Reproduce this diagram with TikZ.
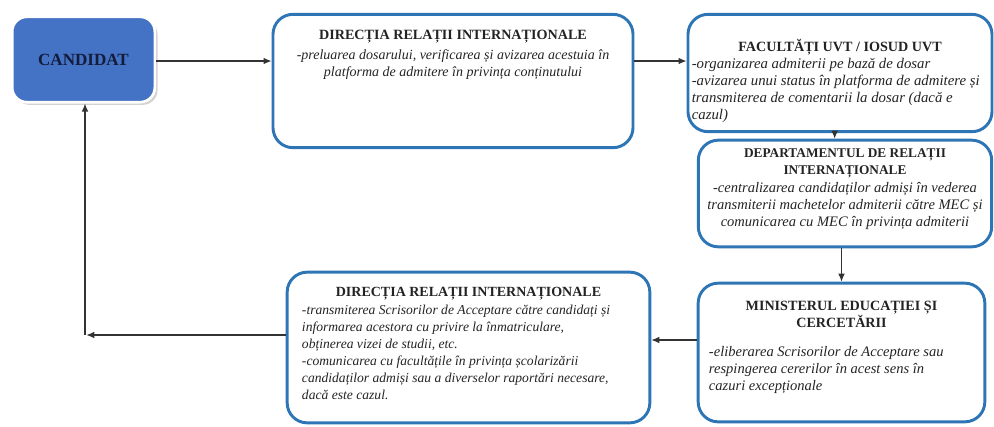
\documentclass[tikz,border=0pt]{standalone}
\usepackage{fontspec}
\setmainfont{Liberation Serif}
\usetikzlibrary{positioning,calc,arrows.meta,shadows}

\definecolor{boxblue}{RGB}{46,117,182}
\definecolor{candfill}{RGB}{68,114,196}
\definecolor{candtext}{RGB}{20,28,60}
\definecolor{txtgray}{RGB}{35,35,35}

\begin{document}
\begin{tikzpicture}[x=0.75pt,y=-0.75pt]
		\tikzset{
		    step box/.style={rectangle,rounded corners=15pt,draw=boxblue,line width=2.2pt,inner sep=0pt},
		    cand box/.style={rectangle,rounded corners=11pt,fill=candfill,draw=white,line width=2pt,
		        drop shadow={shadow xshift=2pt,shadow yshift=-2pt,fill=black!35},inner sep=0pt},
		    title/.style={font=\fontsize{#1}{12.8}\selectfont\bfseries,text=txtgray,align=center,inner sep=0pt},
		    title/.default=10.6,
		    body/.style={font=\fontsize{#1}{12.7}\selectfont\itshape,text=txtgray,inner sep=0pt},
		    body/.default=10.4,
		    edge/.style={-{Latex[length=6pt,width=5pt]},line width=0.9pt,draw=black!80}
		}
		\useasboundingbox (0,0) rectangle (994,426);

		% boxes
		\node[cand box,minimum width=107pt,minimum height=64pt] (cand) at (83.5,59.5)
		    {\fontsize{12.8}{14}\selectfont\bfseries\color{candtext}CANDIDAT};
		\node[step box,minimum width=270pt,minimum height=100pt] (dri1) at (453,81) {};
		\node[step box,minimum width=228pt,minimum height=88pt] (fac) at (840,73) {};
		\node[step box,minimum width=220pt,minimum height=80pt] (dep) at (845,193.5) {};
		\node[step box,minimum width=215pt,minimum height=104pt] (min) at (841.5,352.5) {};
		\node[step box,minimum width=272pt,minimum height=113pt] (dri2) at (468.5,347.5) {};

		% texts
		\node[title] (dri1t) at (453,37) {DIRECȚIA RELAȚII INTERNAȚIONALE};
		\node[body=10.5,align=center,below=4pt of dri1t] (dri1b)
		    {-preluarea dosarului, verificarea și avizarea acestuia în\\
		     platforma de admitere în privința conținutului};

		\node[title] (fact) at (840,47) {FACULTĂȚI UVT / IOSUD UVT};
		\node[body=11.1,align=left,anchor=north west] (facb) at ($(fac.west |- fact.south)+(5,3)$)
		    {-organizarea admiterii pe bază de dosar\\
		     -avizarea unui status în platforma de admitere și\\
		     transmiterea de comentarii la dosar (dacă e\\
		     cazul)};

		\node[title=10] (dept) at (845,163) {DEPARTAMENTUL DE RELAȚII\\INTERNAȚIONALE};
		\node[body=10.9,align=center,below=3pt of dept] (depb)
		    {-centralizarea candidaților admiși în vederea\\
		     transmiterii machetelor admiterii către MEC și\\
		     comunicarea cu MEC în privința admiterii};

		\node[title] (mint) at (841.5,314) {MINISTERUL EDUCAȚIEI ȘI\\CERCETĂRII};
		\node[body=10.9,align=left,anchor=north west] (minb) at ($(min.west |- mint.south)+(12,19)$)
		    {-eliberarea Scrisorilor de Acceptare sau\\
		     respingerea cererilor în acest sens în\\
		     cazuri excepționale};

		\node[title=10.5] (dri2t) at (468.5,294) {DIRECȚIA RELAȚII INTERNAȚIONALE};
		\node[body=10.2,align=left,anchor=north west] (dri2b) at ($(dri2.west |- dri2t.south)+(16,4)$)
		    {-transmiterea Scrisorilor de Acceptare către candidați și\\
		     informarea acestora cu privire la înmatriculare,\\
		     obținerea vizei de studii, etc.\\
		     -comunicarea cu facultățile în privința școlarizării\\
		     candidaților admiși sau a diverselor raportări necesare,\\
		     dacă este cazul.};

		% edges
		\coordinate (back) at (85,335);
		\draw[edge] (cand.east |- 0,61) -- (dri1.west |- 0,61);
		\draw[edge] (dri1.east |- 0,61) -- (fac.west |- 0,61);
		\draw[edge] ([xshift=-4pt]fac.south) -- ([xshift=-4pt]fac.south |- dep.north);
		\draw[edge] (dep.south -| min.north) -- (min.north);
		\draw[edge] (min.west |- 0,340) -- (dri2.east |- 0,340);
		\draw[edge] (dri2.west |- back) -- ([xshift=1pt]back);
		\draw[edge] (back) -- (cand.south -| back);
\end{tikzpicture}
\end{document}
